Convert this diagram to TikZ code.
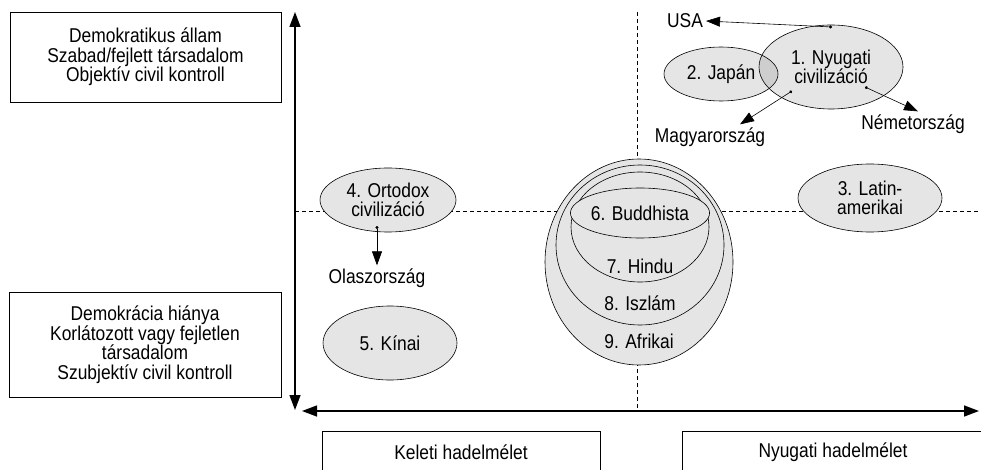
\documentclass[tikz,border=0pt]{standalone}
\usepackage{fontspec}
\setmainfont{Liberation Sans}[FakeStretch=0.87]
\usetikzlibrary{shapes.geometric}
\usetikzlibrary{arrows.meta}

\begin{document}
\begin{tikzpicture}[x=1pt,y=-1pt,
    every node/.style={font=\fontsize{20}{19.5}\selectfont, align=center, inner sep=0pt},
    civ/.style={ellipse, draw, line width=0.6pt, fill=black!10},
    overlap/.style={fill=black, fill opacity=0.1, text opacity=1},
    box/.style={rectangle, draw, line width=0.7pt},
    tag/.style={inner sep=3pt},
    axis/.style={line width=1.4pt, {Triangle[length=15pt,width=11pt]}-{Triangle[length=15pt,width=11pt]}},
    pointer/.style={line width=0.6pt, {Circle[length=3pt]}-{Triangle[length=14pt,width=10pt]}},
    guide/.style={line width=0.6pt, dash pattern=on 4pt off 3pt}]
  \useasboundingbox (0,0) rectangle (981,470);

  %% axes and quadrant guides
  \coordinate (ytop) at (295,12);
  \coordinate (ybot) at (295,410);
  \coordinate (xleft) at (302,411);
  \coordinate (xright) at (979,411);
  \coordinate (hgl) at (295,211);
  \coordinate (hgr) at (979,211);
  \coordinate (vgt) at (637,12);
  \coordinate (vgb) at (637,411);
  \draw[guide] (hgl) -- (hgr);
  \draw[guide] (vgt) -- (vgb);
  \draw[axis] (ytop) -- (ybot);
  \draw[axis] (xleft) -- (xright);

  %% side and bottom boxes
  \node[box, minimum width=271pt, minimum height=90pt] (demo) at (145.5,57)
    {Demokratikus állam\\Szabad/fejlett társadalom\\Objektív civil kontroll};
  \node[box, minimum width=272pt, minimum height=105pt] (nodemo) at (145,344.5)
    {Demokrácia hiánya\\Korlátozott vagy fejletlen\\társadalom\\Szubjektív civil kontroll};
  \node[box, minimum width=278pt, minimum height=42pt] (keleti) at (461,452) {Keleti hadelmélet};
  \node[box, minimum width=302pt, minimum height=42pt] (nyugati) at (833,452) {Nyugati hadelmélet};  %% runs off the page

  %% civilisations
  \node[civ, overlap, minimum width=114pt, minimum height=54pt] (japan) at (721,74) {2. Japán};
  \node[civ, overlap, minimum width=144pt, minimum height=84pt] (nyugat) at (831,67) {1. Nyugati\\civilizáció};
  \node[civ, minimum width=136pt, minimum height=64pt] (ortodox) at (388,200) {4. Ortodox\\civilizáció};
  \node[civ, minimum width=134pt, minimum height=74pt] (kinai) at (390,343) {5. Kínai};
  \node[civ, minimum width=144pt, minimum height=68pt] (latin) at (870,198) {3. Latin-\\amerikai};
  \node[civ, minimum width=188pt, minimum height=206pt] (afrikai) at (639,262) {};
  \node[civ, minimum width=168pt, minimum height=160pt] (iszlam) at (640,245) {};
  \node[civ, minimum width=138pt, minimum height=110pt] (hindu) at (640,227) {};
  \node[civ, minimum width=130pt, minimum height=50pt] (buddhista) at (640,213) {6. Buddhista};
  \node (hindutxt) at ([yshift=16pt]hindu.south) {7. Hindu};
  \node (iszlamtxt) at ([yshift=22pt]iszlam.south) {8. Iszlám};
  \node (afrikaitxt) at ([yshift=24pt]afrikai.south) {9. Afrikai};

  %% countries
  \node[tag] (usa) at (685,21) {USA};
  \node[tag] (magyar) at (710,137) {Magyarország};
  \node[tag] (nemet) at (913,124) {Németország};
  \node[tag] (olasz) at (377,278) {Olaszország};
  \coordinate (nyA) at (832,27);
  \coordinate (nyB) at (792,91);
  \coordinate (nyC) at (865,87);
  \coordinate (ortA) at (377,226);
  \draw[pointer] (nyA) -- (usa.east);
  \draw[pointer] (nyB) -- ([xshift=30pt]magyar.north);
  \draw[pointer] (nyC) -- ([xshift=5pt]nemet.north);
  \draw[pointer] (ortA) -- (olasz.north);
\end{tikzpicture}
\end{document}
